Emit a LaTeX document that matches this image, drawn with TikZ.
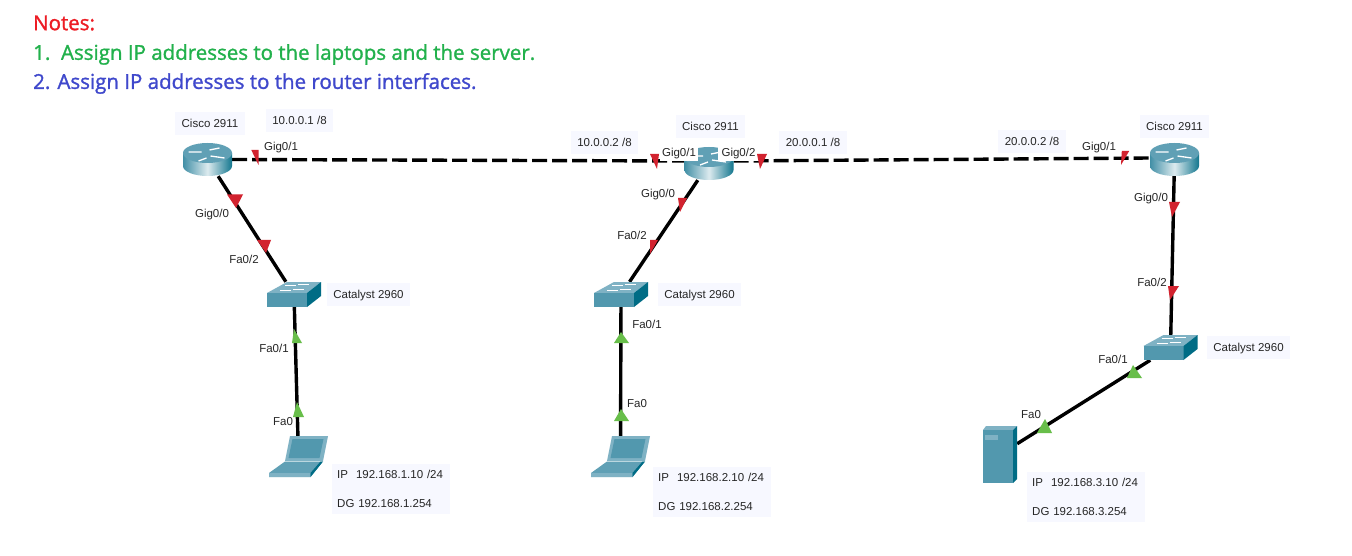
\documentclass[tikz,border=0pt]{standalone}
\usepackage{xcolor}
\usepackage{fontspec}
\setmainfont{Liberation Sans}
\newfontfamily\notefont[FakeBold=1.3]{Open Sans}
\usetikzlibrary{positioning}

\definecolor{noteRed}{HTML}{ED1C24}
\definecolor{noteGreen}{HTML}{22B14C}
\definecolor{noteBlue}{HTML}{3F48CC}
\definecolor{tagBack}{HTML}{F7F8FF}
\definecolor{devFront}{HTML}{5298AE}
\definecolor{devTop}{HTML}{7FB2C4}
\definecolor{devSide}{HTML}{006C85}
\definecolor{linkRed}{HTML}{D2232F}
\definecolor{linkGreen}{HTML}{68BE4A}

\tikzset{
    devbox/.style={inner sep=0pt},
    port/.style={font=\fontsize{11.5}{13}\selectfont, text=black!85, inner sep=1pt,
        text height=9pt, text depth=1pt},
    tag/.style={port, fill=tagBack, minimum height=23pt, inner xsep=6.5pt},
    gigtag/.style={port, fill=white, minimum height=18.5pt},
    iptag/.style={fill=tagBack, text=black!85, align=left, inner xsep=5pt, inner ysep=6pt,
        text width=108pt, font=\fontsize{11.5}{29}\selectfont},
    note/.style={font=\notefont\fontsize{20.5}{23}\selectfont, anchor=west, inner sep=0pt},
    cable/.style={line width=3.4pt, black},
    dashcable/.style={cable, dash pattern=on 15pt off 5pt},
    pics/routerpic/.style={code={
        \shade[left color=devFront!80!devSide, right color=devSide!85!devTop, middle color=white!80!devFront]
            (-24.5,-6.5) -- (-24.5,6.5) arc[start angle=180, end angle=0, x radius=24.5, y radius=10]
            -- (24.5,-6.5) -- cycle;
        \fill[devFront!70!devTop] (0,-6.5) ellipse[x radius=24.5, y radius=10];
        \draw[white, line width=1.3pt] (-19,-7.5) -- (-6,-7.5) (2,-9.5) -- (12,-11.5)
            (3,-3.5) -- (17,-1.5) (-9,1.5) -- (-1,-1.5);
    }},
    pics/switchpic/.style={code={
        \fill[devTop] (-27,-1.5) -- (-7,-12.5) -- (27,-12.5) -- (13,-1.5) -- cycle;
        \fill[devFront] (-27,-1.5) rectangle (13,12.5);
        \fill[devSide] (13,-1.5) -- (27,-12.5) -- (27,1.5) -- (13,12.5) -- cycle;
        \draw[white, line width=0.9pt] (-9,-9) -- (2,-9) (4,-10) -- (15,-10)
            (-14,-4.5) -- (-3,-4.5) (-1,-5.5) -- (10,-5.5);
    }},
    pics/laptoppic/.style={code={
        \fill[devTop] (-8.5,-20.5) -- (29.5,-20.5) -- (24.5,4.5) -- (-13.5,4.5) -- cycle;
        \fill[devFront] (-6,-17.5) -- (25,-17.5) -- (21,1.5) -- (-10,1.5) -- cycle;
        \fill[devFront!70!devTop] (-13.5,5) -- (24.5,5) -- (12,20.5) -- (-29.5,20.5) -- (-29.5,16.5) -- cycle;
        \fill[devSide] (24.5,5) -- (12,20.5) -- (12,16.5) -- (22,5) -- cycle;
        \fill[devTop] (-29.5,16.5) -- (11,16.5) -- (11,20.5) -- (-29.5,20.5) -- cycle;
    }},
    pics/serverpic/.style={code={
        \fill[devTop] (-17,-24.5) -- (-14,-28.5) -- (17,-28.5) -- (13,-24.5) -- cycle;
        \fill[devFront] (-17,-24.5) rectangle (13,28.5);
        \fill[devSide] (13,-24.5) -- (17,-28.5) -- (17,24.5) -- (13,28.5) -- cycle;
        \fill[devTop] (-15,-19.5) rectangle (-2,-14.5);
    }},
}

\begin{document}
\begin{tikzpicture}[x=1pt,y=-1pt]
        \useasboundingbox (0,0) rectangle (1352,556);
        \fill[white] (0,0) rectangle (1352,556);

        % Notes
        \node [note, text=noteRed] (noteHead) at (33,23) {Notes:};
        \node [note, text=noteGreen] (noteOne) at (33,54.5) {1.\ \ Assign IP addresses to the laptops and the server.};
        \node [note, text=noteBlue] (noteTwo) at (33,83.5) {2. Assign IP addresses to the router interfaces.};

        % Routers
        \node [devbox, minimum width=49pt, minimum height=33pt] (routerA) at (207.5,159.5) {};
        \node [devbox, minimum width=49pt, minimum height=33pt] (routerB) at (709,163.5) {};
        \node [devbox, minimum width=49pt, minimum height=33pt] (routerC) at (1174.5,159.5) {};

        % Switches
        \node [devbox, minimum width=54pt, minimum height=25pt] (switchA) at (294,294.5) {};
        \node [devbox, minimum width=54pt, minimum height=25pt] (switchB) at (621,294.5) {};
        \node [devbox, minimum width=54pt, minimum height=25pt] (switchC) at (1170.5,347.5) {};

        % Laptops and server
        \node [devbox, minimum width=59pt, minimum height=41pt] (laptopA) at (298.5,456.5) {};
        \node [devbox, minimum width=59pt, minimum height=41pt] (laptopB) at (620.5,456.5) {};
        \node [devbox, minimum width=34pt, minimum height=57pt] (serverC) at (1000,454.5) {};

        % Cables
        \draw[dashcable] (routerA.east)--([yshift=2.5pt]routerB.west);
        \draw[dashcable] ([yshift=2.5pt]routerB.east)--([yshift=1.5pt]routerC.west);
        \draw[cable] (routerA)--(switchA);
        \draw[cable] (routerB)--(switchB);
        \draw[cable] (routerC)--(switchC);
        \draw[cable] (switchA)--(laptopA);
        \draw[cable] (switchB)--(laptopB);
        \draw[cable] (switchC)--(serverC);

        % Device pictures
        \foreach \dev in {routerA,routerB,routerC}
            \pic at (\dev) {routerpic};
        \foreach \dev in {switchA,switchB,switchC}
            \pic at (\dev) {switchpic};
        \foreach \dev in {laptopA,laptopB}
            \pic at (\dev) {laptoppic};
        \pic at (serverC) {serverpic};

        % Router B ports sit over its top
        \node [gigtag, minimum width=38pt] (gigBone) at (679,152.25) {Gig0/1};
        \node [gigtag, minimum width=41pt] (gigBtwo) at (738.5,152.25) {Gig0/2};

        % Link lights: tip x/tip y/base x/base y/half width
        \foreach \tx/\ty/\bx/\by/\hw in {258.5/165/255/150/3.7, 236/208/235/194.5/8,
            266/253/264/240/7, 657/169/654.5/154/4.5, 760/169/762/154/5, 680/212/682.5/198/4.5,
            650/254/654/240/4, 1121/165/1125.5/151/3.7, 1172/217/1174.5/202/5.5, 1170/300/1173.5/286/5.5}
            \fill[linkRed] (\tx,\ty)--(\bx-\hw,\by)--(\bx+\hw,\by)--cycle;
        \foreach \tx/\ty/\bx/\by/\hw in {294/329/297/343/5, 297/402/298.5/417/5.5,
            621/332/621.5/343/7.5, 621/409/621.5/421/7.5, 1133/365/1134.5/378/7.5, 1045/419/1044.5/433/7.5}
            \fill[linkGreen] (\tx,\ty)--(\bx-\hw,\by)--(\bx+\hw,\by)--cycle;

        % Router A
        \node [tag] (modelA) at (210,123.5) {Cisco 2911};
        \node [tag] (addrA) at (299.5,120.5) {10.0.0.1 /8};
        \node [port] (gigAone) at (281,147) {Gig0/1};
        \node [port] (gigAzero) at (212,214) {Gig0/0};
        \node [port] (faAtwo) at (244,259) {Fa0/2};
        \node [tag] (catA) at (368.5,294) {Catalyst 2960};
        \node [port] (faAone) at (274,348) {Fa0/1};
        \node [port] (faAzero) at (283,421) {Fa0};
        \node [iptag, anchor=north west] (ipA) at (332,464) {IP\hspace{8pt}192.168.1.10 /24\\DG 192.168.1.254};

        % Router B
        \node [tag] (modelB) at (710.5,126.5) {Cisco 2911};
        \node [tag] (addrBone) at (604.5,143) {10.0.0.2 /8};
        \node [tag] (addrBtwo) at (813,143) {20.0.0.1 /8};
        \node [port] (gigBzero) at (658,194) {Gig0/0};
        \node [port] (faBtwo) at (632,236) {Fa0/2};
        \node [tag] (catB) at (699.5,294) {Catalyst 2960};
        \node [port] (faBone) at (647,324) {Fa0/1};
        \node [port] (faBzero) at (637,403) {Fa0};
        \node [iptag, anchor=north west] (ipB) at (653,467) {IP\hspace{8pt}192.168.2.10 /24\\DG 192.168.2.254};

        % Router C
        \node [tag] (addrC) at (1032,142) {20.0.0.2 /8};
        \node [port] (gigCone) at (1099,147) {Gig0/1};
        \node [tag] (modelC) at (1174.5,126.5) {Cisco 2911};
        \node [port] (gigCzero) at (1151,198) {Gig0/0};
        \node [port] (faCtwo) at (1152,282) {Fa0/2};
        \node [tag] (catC) at (1248.5,347) {Catalyst 2960};
        \node [port] (faCone) at (1113,359) {Fa0/1};
        \node [port] (faCzero) at (1031,414) {Fa0};
        \node [iptag, anchor=north west] (ipC) at (1027,472) {IP\hspace{8pt}192.168.3.10 /24\\DG 192.168.3.254};
\end{tikzpicture}
\end{document}
